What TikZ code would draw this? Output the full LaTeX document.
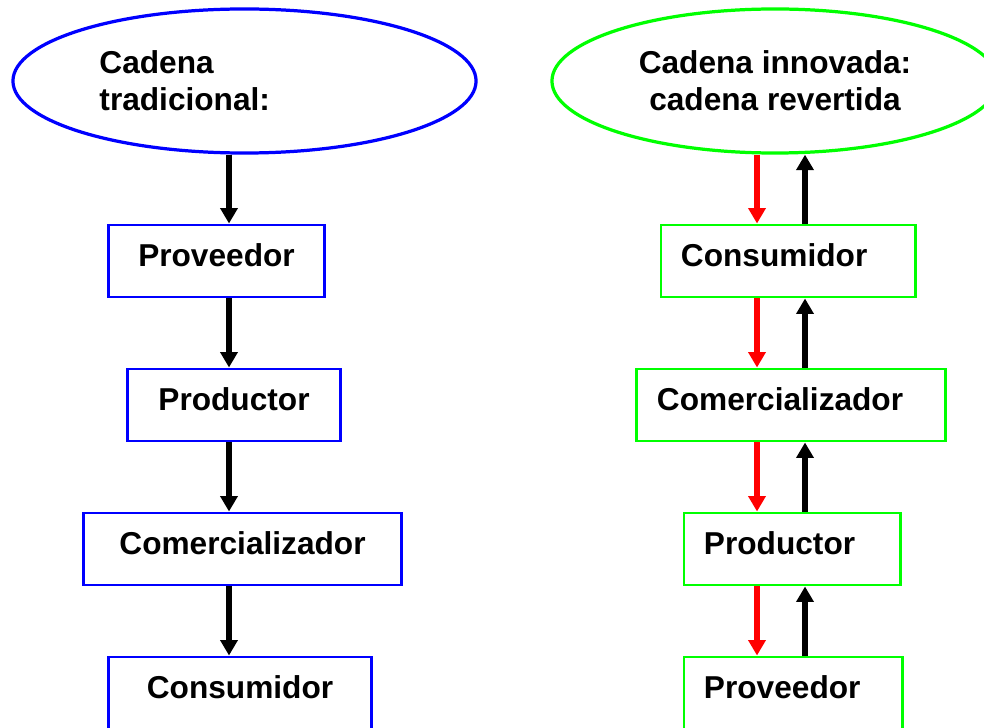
\documentclass[tikz,border=0pt]{standalone}
\usepackage{fontspec}
\setmainfont{Liberation Sans}
\usetikzlibrary{shapes.geometric,arrows.meta}
\tikzset{
  letra/.style={font=\fontsize{22.5}{26.5}\selectfont\bfseries},
  nube/.style={ellipse,line width=2.3pt,minimum height=3.6cm,inner sep=0pt,letra},
  lbox/.style={draw=blue,line width=2.1pt,minimum height=1.8cm,inner sep=0pt,text depth=0.3cm,letra},
  rbox/.style={draw=green,line width=2.1pt,minimum height=1.8cm,inner xsep=0.5cm,inner ysep=0pt,align=left,text depth=0.3cm,letra},
  flecha/.style={->,>={Triangle[length=11pt,width=12pt]},line width=4.2pt},
}
\begin{document}
\begin{tikzpicture}[x=0.025cm,y=-0.025cm]
  \useasboundingbox (0,0) rectangle (984,728);

  % cadena tradicional
  \node[nube,draw=blue,minimum width=11.575cm,text width=7.25cm,align=left] (tradicional) at (244.5,81) {Cadena\\tradicional:};
  \node[lbox,minimum width=5.375cm] (provL) at (216.5,261) {Proveedor};
  \node[lbox,minimum width=5.3cm] (prodL) at (234,405) {Productor};
  \node[lbox,minimum width=7.925cm] (comL) at (242.5,549) {Comercializador};
  \node[lbox,minimum width=6.55cm] (consL) at (240,693) {Consumidor};

  % cadena revertida
  \node[nube,draw=green,minimum width=11.15cm,align=center] (revertida) at (775,81) {Cadena innovada:\\cadena revertida};
  \node[rbox,text width=5.35cm] (consR) at (788,261) {Consumidor};
  \node[rbox,text width=6.7cm] (comR) at (791,405) {Comercializador};
  \node[rbox,text width=4.4cm] (prodR) at (792,549) {Productor};
  \node[rbox,text width=4.45cm] (provR) at (793,693) {Proveedor};

  \coordinate (ejeL) at (229,0);
  \coordinate (bajaR) at (757,0);
  \coordinate (subeR) at (805,0);

  \foreach \a/\b in {tradicional/provL,provL/prodL,prodL/comL,comL/consL}
    \draw[flecha] (ejeL |- \a.south) -- (ejeL |- \b.north);

  \foreach \a/\b in {revertida/consR,consR/comR,comR/prodR,prodR/provR}{
    \draw[flecha,red] (bajaR |- \a.south) -- (bajaR |- \b.north);
    \draw[flecha] (subeR |- \b.north) -- (subeR |- \a.south);
  }
\end{tikzpicture}
\end{document}
